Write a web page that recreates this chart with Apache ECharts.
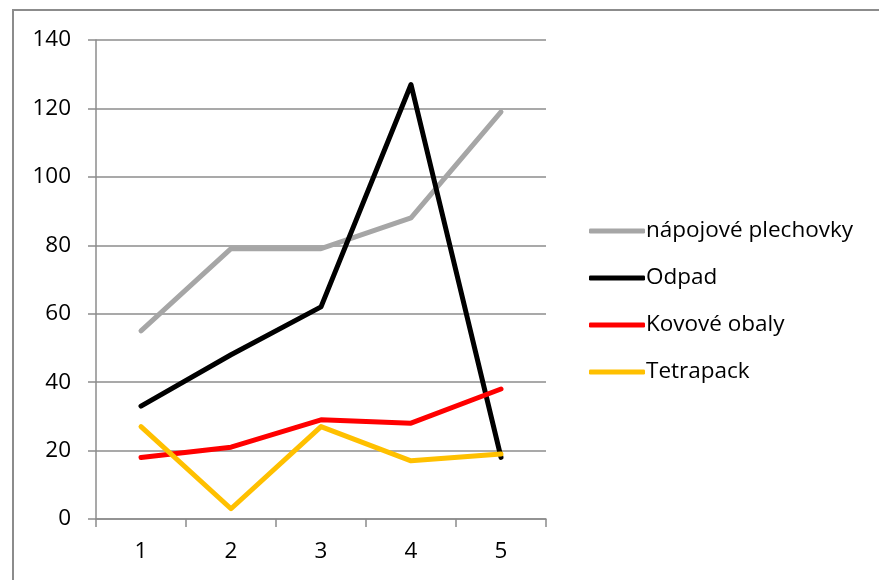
<!DOCTYPE html>
<html><head><meta charset="utf-8">
<script src="https://cdn.jsdelivr.net/npm/echarts@6/dist/echarts.min.js"></script>
<style>html,body{margin:0;padding:0;background:#fff}#c{width:879px;height:580px}</style>
</head><body><div id="c"></div>
<script>
var categories = ['1','2','3','4','5'];
var napojovePlechovky = [55, 79, 79, 88, 119];
var odpad = [33, 48, 62, 127, 18];
var kovoveObaly = [18, 21, 29, 28, 38];
var tetrapack = [27, 3, 27, 17, 19];
var seriesNames = ['nápojové plechovky', 'Odpad', 'Kovové obaly', 'Tetrapack'];
var seriesColors = ['#A6A6A6', '#000000', '#FF0000', '#FFC000'];
var seriesData = [napojovePlechovky, odpad, kovoveObaly, tetrapack];

var font = '"Open Sans", Lato, sans-serif';
var chart = echarts.init(document.getElementById('c'), null, {renderer: 'canvas'});
chart.setOption({
  animation: false,
  backgroundColor: '#fff',
  graphic: [{
    type: 'rect', silent: true,
    shape: {x: 13, y: 10, width: 900, height: 600},
    style: {fill: 'none', stroke: '#8c8c8c', lineWidth: 2}
  }],
  grid: {left: 96, top: 40, right: 333, bottom: 61, containLabel: false},
  legend: {
    orient: 'vertical', left: 584, top: 213,
    itemWidth: 56, itemHeight: 5, itemGap: 21,
    icon: 'roundRect',
    textStyle: {fontFamily: font, fontSize: 22.5, color: '#000', lineHeight: 26, padding: [0,0,0,-4]},
    data: seriesNames
  },
  xAxis: {
    type: 'category', data: categories, boundaryGap: true,
    axisLine: {lineStyle: {color: '#8c8c8c', width: 1.5}},
    axisTick: {show: true, length: 8, lineStyle: {color: '#8c8c8c', width: 1.5}},
    axisLabel: {fontFamily: font, fontSize: 22.5, color: '#000', margin: 21}
  },
  yAxis: {
    type: 'value', min: 0, max: 140, interval: 20,
    axisLine: {show: true, lineStyle: {color: '#8c8c8c', width: 1.5}},
    axisTick: {show: true, length: 8, lineStyle: {color: '#8c8c8c', width: 1.5}},
    splitLine: {show: true, lineStyle: {color: '#8c8c8c', width: 1.5}},
    axisLabel: {fontFamily: font, fontSize: 22.5, color: '#000', margin: 25}
  },
  series: seriesNames.map(function(n, i){
    return {
      name: n, type: 'line', data: seriesData[i], showSymbol: false, symbol: 'none',
      itemStyle: {color: seriesColors[i]},
      lineStyle: {color: seriesColors[i], width: 5, cap: 'round', join: 'round'}
    };
  })
});
</script></body></html>
